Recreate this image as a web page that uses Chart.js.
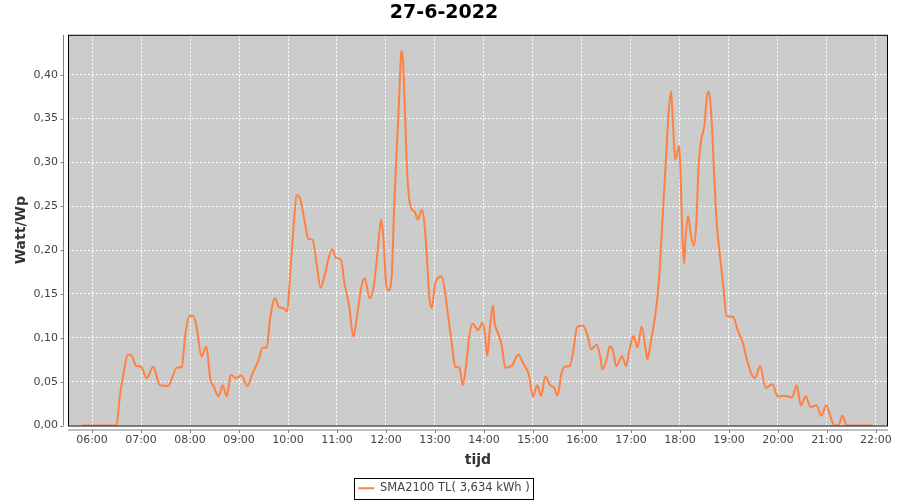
<!DOCTYPE html>
<html>
<head>
<meta charset="utf-8">
<script src="https://cdn.jsdelivr.net/npm/chart.js@4"></script>
<style>
  body { margin: 0; background: #fff; }
</style>
</head>
<body>
<canvas id="pvChart" width="900" height="500"></canvas>
<script>
// 27-6-2022 opbrengst per Wp
var titleText = '27-6-2022';
var legendLabel = 'SMA2100 TL( 3,634 kWh )';
var hourTicks = ['06:00','07:00','08:00','09:00','10:00','11:00','12:00','13:00','14:00',
	'15:00','16:00','17:00','18:00','19:00','20:00','21:00','22:00'];
var yTicks = [0, 0.05, 0.10, 0.15, 0.20, 0.25, 0.30, 0.35, 0.40];

var times = ['05:47','06:24','06:30','06:34','06:38','06:44','06:49','06:54','07:00','07:07',
	'07:15','07:23','07:33','07:44','07:50','07:54','07:59','08:04','08:08','08:14',
	'08:20','08:25','08:29','08:35','08:40','08:45','08:50','08:56','09:03','09:10',
	'09:16','09:24','09:29','09:34','09:38','09:44','09:49','09:54','09:59','10:02',
	'10:06','10:11','10:15','10:20','10:25','10:30','10:35','10:40','10:45','10:54',
	'10:59','11:05','11:09','11:15','11:20','11:24','11:30','11:34','11:40','11:45',
	'11:50','11:54','11:57','12:00','12:03','12:07','12:10','12:13','12:16','12:18',
	'12:19','12:21','12:23','12:26','12:30','12:35','12:39','12:44','12:47','12:50',
	'12:53','12:56','13:00','13:08','13:12','13:16','13:20','13:25','13:30','13:34',
	'13:38','13:42','13:46','13:53','13:58','14:01','14:04','14:07','14:11','14:13',
	'14:17','14:22','14:26','14:34','14:42','14:48','14:55','15:00','15:05','15:10',
	'15:15','15:21','15:26','15:30','15:35','15:39','15:45','15:49','15:54','16:01',
	'16:07','16:11','16:18','16:22','16:25','16:30','16:34','16:38','16:42','16:49',
	'16:54','16:59','17:03','17:08','17:13','17:18','17:20','17:24','17:30','17:34',
	'17:37','17:40','17:43','17:46','17:49','17:51','17:54','17:59','18:01','18:03',
	'18:05','18:07','18:10','18:13','18:17','18:20','18:23','18:26','18:30','18:33',
	'18:35','18:38','18:42','18:45','18:49','18:53','18:57','19:05','19:11','19:17',
	'19:22','19:27','19:32','19:38','19:45','19:53','20:00','20:08','20:17','20:23',
	'20:28','20:34','20:40','20:47','20:53','20:59','21:04','21:09','21:14','21:19',
	'21:24','21:56'];
var values = [0, 0, 0, 0.033, 0.056, 0.081, 0.079, 0.068, 0.067, 0.054,
	0.067, 0.046, 0.045, 0.066, 0.067, 0.102, 0.125, 0.125, 0.113, 0.079,
	0.090, 0.052, 0.045, 0.033, 0.046, 0.033, 0.058, 0.054, 0.057, 0.045,
	0.058, 0.075, 0.089, 0.089, 0.121, 0.145, 0.135, 0.134, 0.130, 0.163,
	0.216, 0.263, 0.258, 0.235, 0.213, 0.212, 0.185, 0.157, 0.172, 0.201,
	0.191, 0.189, 0.163, 0.136, 0.101, 0.121, 0.159, 0.168, 0.145, 0.159,
	0.201, 0.235, 0.212, 0.163, 0.154, 0.170, 0.250, 0.311, 0.372, 0.417,
	0.428, 0.413, 0.364, 0.288, 0.250, 0.244, 0.235, 0.246, 0.231, 0.193,
	0.147, 0.134, 0.161, 0.170, 0.155, 0.125, 0.098, 0.067, 0.066, 0.046,
	0.068, 0.102, 0.116, 0.109, 0.117, 0.106, 0.079, 0.109, 0.137, 0.117,
	0.106, 0.090, 0.066, 0.068, 0.081, 0.071, 0.058, 0.033, 0.046, 0.034,
	0.056, 0.046, 0.043, 0.034, 0.060, 0.067, 0.068, 0.083, 0.112, 0.114,
	0.102, 0.087, 0.092, 0.080, 0.064, 0.075, 0.090, 0.085, 0.068, 0.079,
	0.068, 0.090, 0.102, 0.089, 0.113, 0.087, 0.075, 0.094, 0.128, 0.163,
	0.208, 0.258, 0.307, 0.356, 0.381, 0.353, 0.303, 0.319, 0.277, 0.216,
	0.185, 0.216, 0.239, 0.220, 0.205, 0.231, 0.299, 0.326, 0.343, 0.375,
	0.381, 0.360, 0.283, 0.231, 0.193, 0.159, 0.125, 0.124, 0.108, 0.094,
	0.075, 0.060, 0.054, 0.068, 0.043, 0.047, 0.033, 0.034, 0.032, 0.046,
	0.023, 0.033, 0.021, 0.023, 0.011, 0.023, 0.011, 0, 0, 0.011,
	0, 0];

var lineColor = 'rgb(255,128,64)';
var tickColor = '#444';

function toMinutes(s) {
	var p = s.split(':');
	return parseInt(p[0], 10) * 60 + parseInt(p[1], 10);
}
function fmtTime(m) {
	var h = Math.floor(m / 60), mm = Math.round(m % 60);
	return (h < 10 ? '0' : '') + h + ':' + (mm < 10 ? '0' : '') + mm;
}

var points = [];
for (var i = 0; i < times.length; i++) {
	points.push({x: toMinutes(times[i]), y: values[i]});
}

Chart.defaults.font.family = '"DejaVu Sans", sans-serif';

// grijze plot achtergrond, kader, as-lijnen en legenda rand
var plotDeco = {
	id: 'plotDeco',
	beforeDraw: function(chart) {
		var a = chart.chartArea, ctx = chart.ctx;
		ctx.save();
		ctx.fillStyle = '#cccccc';
		ctx.fillRect(a.left, a.top, a.right - a.left, a.bottom - a.top);
		ctx.restore();
	},
	afterDatasetsDraw: function(chart) {
		var a = chart.chartArea, ctx = chart.ctx;
		ctx.save();
		ctx.strokeStyle = '#000';
		ctx.lineWidth = 1;
		ctx.strokeRect(a.left + 0.5, a.top + 0.5, a.right - a.left - 1, a.bottom - a.top);

		ctx.strokeStyle = '#808080';
		ctx.beginPath();
		// y as
		var ax = a.left - 4.5;
		ctx.moveTo(ax, a.top);
		ctx.lineTo(ax, a.bottom);
		chart.scales.y.ticks.forEach(function(t) {
			var py = Math.round(chart.scales.y.getPixelForValue(t.value)) + 0.5;
			ctx.moveTo(ax - 3, py);
			ctx.lineTo(ax, py);
		});
		// x as
		var ay = a.bottom + 4.5;
		ctx.moveTo(a.left, ay);
		ctx.lineTo(a.right, ay);
		chart.scales.x.ticks.forEach(function(t) {
			var px = Math.round(chart.scales.x.getPixelForValue(t.value)) + 0.5;
			ctx.moveTo(px, ay);
			ctx.lineTo(px, ay + 3);
		});
		ctx.stroke();
		ctx.restore();
	},
	afterDraw: function(chart) {
		var hb = chart.legend.legendHitBoxes[0];
		if (!hb) return;
		var ctx = chart.ctx;
		ctx.save();
		ctx.strokeStyle = '#000';
		ctx.lineWidth = 1;
		ctx.strokeRect(Math.round(hb.left - 4) + 0.5, Math.round(hb.top - 5) + 0.5,
			Math.round(hb.width + 8), 21);
		ctx.restore();
	}
};

var ctx = document.getElementById('pvChart').getContext('2d');
window.pvChart = new Chart(ctx, {
	type: 'line',
	data: {
		datasets: [{
			label: legendLabel,
			data: points,
			borderColor: lineColor,
			backgroundColor: lineColor,
			borderWidth: 2,
			pointRadius: 0,
			cubicInterpolationMode: 'monotone',
			fill: false
		}]
	},
	options: {
		responsive: false,
		animation: false,
		devicePixelRatio: 1,
		layout: {
			padding: {left: 0, right: 12, top: 0, bottom: -4}
		},
		plugins: {
			title: {
				display: true,
				text: titleText,
				color: '#000',
				font: {size: 19, weight: 'bold'},
				padding: {top: 2, bottom: 10}
			},
			legend: {
				position: 'bottom',
				labels: {
					usePointStyle: true,
					pointStyle: 'line',
					pointStyleWidth: 16,
					color: tickColor,
					font: {size: 11.5},
					padding: 10
				}
			},
			tooltip: {enabled: false}
		},
		scales: {
			x: {
				type: 'linear',
				min: 330.6,
				max: 1334.7,
				afterBuildTicks: function(scale) {
					scale.ticks = hourTicks.map(function(h) { return {value: toMinutes(h)}; });
				},
				afterFit: function(scale) { scale.height = 47; },
				ticks: {
					autoSkip: false,
					maxRotation: 0,
					color: tickColor,
					font: {size: 11},
					padding: 8,
					callback: function(v) { return fmtTime(v); }
				},
				grid: {color: '#ffffff', drawTicks: false},
				border: {display: false, dash: [2, 2]},
				title: {
					display: true,
					text: 'tijd',
					color: '#333',
					font: {size: 14, weight: 'bold'},
					padding: {top: 0, bottom: 4}
				}
			},
			y: {
				min: 0,
				max: 0.4456,
				afterBuildTicks: function(scale) {
					scale.ticks = yTicks.map(function(v) { return {value: v}; });
				},
				afterFit: function(scale) { scale.width = 68; },
				ticks: {
					color: tickColor,
					font: {size: 11},
					padding: 10,
					callback: function(v) { return v.toFixed(2).replace('.', ','); }
				},
				grid: {color: '#ffffff', drawTicks: false},
				border: {display: false, dash: [2, 2]},
				title: {
					display: true,
					text: 'Watt/Wp',
					color: '#333',
					font: {size: 14, weight: 'bold'},
					padding: {top: 13, bottom: 0}
				}
			}
		}
	},
	plugins: [plotDeco]
});
</script>
</body>
</html>
